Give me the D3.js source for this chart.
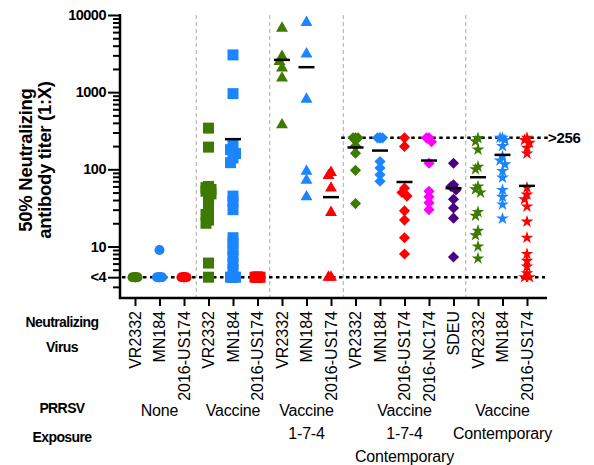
<!DOCTYPE html>
<html><head><meta charset="utf-8">
<script src="https://cdn.jsdelivr.net/npm/d3@7"></script>
<style>body{margin:0;background:#fff}svg{display:block}text{font-family:"Liberation Sans",Arial,sans-serif;fill:#000}</style>
</head><body><svg id="c" width="594" height="465"></svg>
<script>
// ---------- data ----------
const virusLabels = ["VR2332","MN184","2016-US174","VR2332","MN184","2016-US174","VR2332","MN184","2016-US174","VR2332","MN184","2016-US174","2016-NC174","SDEU","VR2332","MN184","2016-US174"];
const groupIndex = [0,0,0,1,1,1,2,2,2,3,3,3,3,3,4,4,4];
const groupLabels = [["None"],["Vaccine"],["Vaccine","1-7-4"],["Vaccine","1-7-4","Contemporary"],["Vaccine","Contemporary"]];
const groupShapes = ["circle","square","triangle","diamond","star"];
const virusColors = ["#3d7a00","#1a85ff","#ff0000","#3d7a00","#1a85ff","#ff0000","#3d7a00","#1a85ff","#ff0000","#3d7a00","#1a85ff","#ff0000","#ff00ff","#4b0082","#3d7a00","#1a85ff","#ff0000"];
const titers = [
  [4,4,4,4,4,4],
  [9,4,4,4,4,4],
  [4,4,4,4,4,4],
  [342,194,60,58,55,52,48,42,36,30,26,22,20,6.1,4],
  [3040,957,204,180,160,140,122,45,38,30,13,11,9,7.5,6,5,4,4,4,4],
  [4,4,4,4,4],
  [6750,2900,2500,2050,1520,377],
  [8000,3130,811,94,72,44],
  [91,83,57,27.6,4,4],
  [256,256,256,240,200,162,97,36],
  [256,256,256,256,126,104,85,70],
  [256,198,57,50,45,29,22,13,8],
  [256,256,228,120,52,44,37,30],
  [120,63,60,54,41,31.5,23.3,7.3],
  [254,230,180,108,100,60,55,50,28,25,16,14,10,7],
  [256,256,240,200,147,130,116,95,78,54,44,35,23],
  [256,240,220,190,160,58,47,41,33,21,13,8,6.5,5.5,4.5,4,4]
];
const means = [null,null,null,null,246,null,2620,2108,43.6,192,175,68.5,130,57,79,154,61];
const yTickValues = [4,10,100,1000,10000];
const yTickLabels = ["<4","10","100","1000","10000"];
const yMinorValues = [3,5,6,7,8,9,20,30,40,50,60,70,80,90,200,300,400,500,600,700,800,900,2000,3000,4000,5000,6000,7000,8000,9000];
const lowerLimit = 4, upperLimit = 256, upperLabel = ">256";
const yTitle = ["50% Neutralizing","antibody titer (1:X)"];
const rowTitle1 = ["Neutralizing","Virus"], rowTitle2 = ["PRRSV","Exposure"];

// ---------- layout ----------
const svg = d3.select("#c");
const X0 = 120, X1 = 547, Y0 = 298, Y1 = 15;
const x = d3.scalePoint().domain(d3.range(virusLabels.length)).range([135, 527]);
const y = d3.scaleLog().domain([2.15, 10000]).range([Y0, Y1]);

// group separators
const sepX = d3.range(1, groupLabels.length).map(g => {
  const last = groupIndex.lastIndexOf(g - 1), first = groupIndex.indexOf(g);
  return (x(last) + x(first)) / 2;
});
svg.append("g").selectAll("line").data(sepX).join("line")
  .attr("x1", d => d).attr("x2", d => d).attr("y1", Y1).attr("y2", Y0)
  .attr("stroke", "#aaa").attr("stroke-width", 1).attr("stroke-dasharray", "4,3");

// limit lines
svg.append("line").attr("x1", X0 + 2).attr("x2", 545).attr("y1", y(lowerLimit)).attr("y2", y(lowerLimit))
  .attr("stroke", "#000").attr("stroke-width", 2.5).attr("stroke-dasharray", "3.5,3.5");
svg.append("line").attr("x1", sepX[2] - 2).attr("x2", 548).attr("y1", y(upperLimit)).attr("y2", y(upperLimit))
  .attr("stroke", "#000").attr("stroke-width", 2.5).attr("stroke-dasharray", "3.5,3.5");
svg.append("text").attr("x", 548).attr("y", y(upperLimit) + 5).attr("font-size", 15).attr("font-weight", "bold")
  .attr("letter-spacing", -0.3).text(upperLabel);

// y axis
const yAxis = svg.append("g").attr("transform", `translate(${X0},0)`)
  .call(d3.axisLeft(y).tickValues(yTickValues).tickFormat((d, i) => yTickLabels[i]).tickSize(12).tickPadding(2));
const yMinor = svg.append("g").attr("transform", `translate(${X0},0)`)
  .call(d3.axisLeft(y).tickValues(yMinorValues).tickFormat("").tickSize(7));
[yAxis, yMinor].forEach(g => { g.select(".domain").remove(); g.selectAll("line").attr("stroke-width", 2); });
yAxis.selectAll("text").attr("font-size", 14.5).attr("font-weight", "bold").attr("letter-spacing", -0.5)
  .attr("font-family", '"Liberation Sans",Arial,sans-serif');
svg.append("line").attr("x1", X0).attr("x2", X0).attr("y1", Y1 - 1).attr("y2", Y0 + 1).attr("stroke", "#000").attr("stroke-width", 2.5);

// x axis
const xAxis = svg.append("g").attr("transform", `translate(0,${Y0})`)
  .call(d3.axisBottom(x).tickSize(8).tickFormat(""));
xAxis.select(".domain").remove();
xAxis.selectAll("line").attr("stroke-width", 2);
svg.append("line").attr("x1", X0 - 1).attr("x2", X1).attr("y1", Y0).attr("y2", Y0).attr("stroke", "#000").attr("stroke-width", 2.5);
svg.append("g").selectAll("text").data(virusLabels).join("text")
  .attr("transform", (d, i) => `translate(${x(i)},${Y0 + 13}) rotate(-90)`)
  .attr("dy", "0.36em").attr("text-anchor", "end").attr("font-size", 16).text(d => d);

// points
function dodge(vals) {
  const offs = [0, -2.5, 2.5], placed = [];
  return vals.map(v => {
    const yy = y(v); let best = 0, bestD = -1;
    for (const o of offs) {
      let md = Infinity;
      for (const p of placed) md = Math.min(md, Math.hypot(p[0] - o, p[1] - yy));
      if (md >= 5) { best = o; bestD = md; break; }
      if (md > bestD) { bestD = md; best = o; }
    }
    placed.push([best, yy]); return best;
  });
}
const symbolFor = {
  circle: d3.symbol(d3.symbolCircle, 80)(),
  square: d3.symbol(d3.symbolSquare, 121)(),
  triangle: d3.symbol(d3.symbolTriangle, 62)(),
  diamond: d3.symbol(d3.symbolSquare, 62)(),
  star: d3.symbol(d3.symbolStar, 50)()
};
const pts = [];
titers.forEach((vals, c) => {
  const offs = dodge(vals);
  vals.forEach((v, k) => pts.push({ c, v, dx: offs[k] }));
});
svg.append("g").selectAll("path").data(pts).join("path")
  .attr("d", d => symbolFor[groupShapes[groupIndex[d.c]]])
  .attr("transform", d => {
    const sh = groupShapes[groupIndex[d.c]];
    return `translate(${x(d.c) + d.dx},${y(d.v)})` + (sh === "diamond" ? " rotate(45)" : "");
  })
  .attr("fill", d => virusColors[d.c]);

// means
svg.append("g").selectAll("line").data(means.map((m, c) => ({ m, c })).filter(d => d.m != null)).join("line")
  .attr("x1", d => x(d.c) - 8).attr("x2", d => x(d.c) + 8).attr("y1", d => y(d.m)).attr("y2", d => y(d.m))
  .attr("stroke", "#000").attr("stroke-width", 2.5);

// row titles
function block(lines, cx, y0, lh, size, weight, anchor) {
  lines.forEach((t, i) => svg.append("text").attr("x", cx).attr("y", y0 + i * lh).attr("text-anchor", anchor || "middle")
    .attr("font-size", size).attr("font-weight", weight).attr("letter-spacing", weight === "bold" ? -0.6 : -0.2).text(t));
}
block(rowTitle1, 62, 327, 25, 14, "bold");
block(rowTitle2, 62, 413, 29, 14, "bold");
groupLabels.forEach((lines, g) => {
  const cols = d3.range(groupIndex.length).filter(i => groupIndex[i] === g);
  const cx = (x(cols[0]) + x(cols[cols.length - 1])) / 2;
  block(lines, cx, 416, 23, 16, "normal");
});

// y title
yTitle.forEach((t, i) => svg.append("text")
  .attr("transform", `translate(${32 + i * 19},160) rotate(-90)`).attr("text-anchor", "middle")
  .attr("font-size", 18.5).attr("font-weight", "bold").attr("letter-spacing", -0.3).text(t));
</script></body></html>
